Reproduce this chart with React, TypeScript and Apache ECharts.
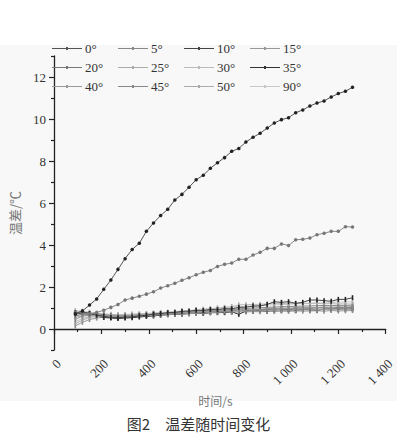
import React, { useEffect, useRef } from 'react';
import * as echarts from 'echarts';

const times = [90, 120, 150, 180, 210, 240, 270, 300, 330, 360, 390, 420, 450, 480, 510, 540, 570, 600, 630, 660, 690, 720, 750, 780, 810, 840, 870, 900, 930, 960, 990, 1020, 1050, 1080, 1110, 1140, 1170, 1200, 1230, 1260];

const seriesNames = ['0°', '5°', '10°', '15°', '20°', '25°', '30°', '35°', '40°', '45°', '50°', '90°'];

const d0 = [0.72, 0.86, 1.14, 1.43, 1.89, 2.33, 2.84, 3.35, 3.79, 4.08, 4.65, 5.05, 5.40, 5.70, 6.14, 6.41, 6.75, 7.11, 7.32, 7.65, 7.92, 8.16, 8.46, 8.60, 8.90, 9.13, 9.32, 9.57, 9.81, 9.97, 10.06, 10.30, 10.43, 10.62, 10.76, 10.86, 11.05, 11.21, 11.32, 11.51];
const d5 = [0.80, 0.76, 0.72, 0.79, 0.89, 1.03, 1.17, 1.38, 1.47, 1.56, 1.66, 1.77, 1.95, 2.06, 2.18, 2.32, 2.44, 2.58, 2.70, 2.79, 2.98, 3.08, 3.14, 3.32, 3.32, 3.52, 3.65, 3.84, 3.84, 4.05, 3.98, 4.25, 4.27, 4.33, 4.49, 4.56, 4.65, 4.65, 4.87, 4.86];
const d10 = [0.78, 0.82, 0.74, 0.66, 0.61, 0.55, 0.54, 0.56, 0.57, 0.63, 0.65, 0.71, 0.73, 0.78, 0.79, 0.84, 0.85, 0.89, 0.88, 0.93, 0.92, 0.97, 0.96, 1.03, 1.04, 1.09, 1.10, 1.17, 1.30, 1.27, 1.30, 1.22, 1.27, 1.38, 1.38, 1.35, 1.32, 1.41, 1.41, 1.49];
const d15 = [0.45, 0.62, 0.66, 0.69, 0.64, 0.63, 0.61, 0.63, 0.64, 0.67, 0.68, 0.71, 0.71, 0.75, 0.76, 0.77, 0.81, 0.80, 0.84, 0.85, 0.88, 0.86, 0.91, 0.93, 0.92, 0.95, 0.94, 0.98, 0.97, 1.00, 0.99, 1.02, 1.01, 1.03, 1.02, 1.05, 1.03, 1.06, 1.04, 1.07];
const d20 = [0.62, 0.70, 0.72, 0.70, 0.67, 0.64, 0.60, 0.62, 0.62, 0.65, 0.66, 0.69, 0.70, 0.72, 0.75, 0.74, 0.78, 0.80, 0.79, 0.83, 0.85, 0.84, 0.88, 0.90, 0.89, 0.92, 0.93, 0.92, 0.95, 0.97, 0.95, 0.98, 1.00, 0.98, 1.01, 1.02, 1.00, 1.03, 1.02, 1.04];
const d25 = [0.25, 0.42, 0.55, 0.60, 0.62, 0.60, 0.58, 0.60, 0.61, 0.63, 0.64, 0.66, 0.68, 0.69, 0.71, 0.73, 0.74, 0.76, 0.77, 0.79, 0.80, 0.82, 0.81, 0.84, 0.85, 0.84, 0.86, 0.88, 0.87, 0.89, 0.90, 0.89, 0.91, 0.92, 0.91, 0.93, 0.92, 0.94, 0.93, 0.95];
const d30 = [0.35, 0.50, 0.60, 0.66, 0.68, 0.67, 0.66, 0.68, 0.70, 0.72, 0.73, 0.75, 0.77, 0.79, 0.82, 0.84, 0.86, 0.90, 0.93, 0.96, 1.00, 1.03, 1.06, 1.15, 1.16, 1.17, 1.18, 1.20, 1.21, 1.22, 1.20, 1.22, 1.21, 1.23, 1.22, 1.20, 1.21, 1.19, 1.20, 1.18];
const d35 = [0.72, 0.74, 0.70, 0.62, 0.55, 0.52, 0.50, 0.52, 0.54, 0.57, 0.60, 0.62, 0.66, 0.68, 0.70, 0.72, 0.74, 0.76, 0.75, 0.78, 0.80, 0.78, 0.82, 0.70, 0.86, 0.85, 0.88, 0.86, 0.90, 0.89, 0.92, 0.88, 0.93, 0.92, 0.90, 0.94, 0.93, 0.95, 0.94, 0.96];
const d40 = [0.15, 0.32, 0.45, 0.52, 0.56, 0.57, 0.58, 0.60, 0.62, 0.63, 0.65, 0.66, 0.68, 0.70, 0.71, 0.72, 0.73, 0.75, 0.76, 0.78, 0.77, 0.79, 0.80, 0.82, 0.81, 0.83, 0.82, 0.84, 0.83, 0.85, 0.84, 0.86, 0.85, 0.86, 0.87, 0.85, 0.88, 0.86, 0.87, 0.88];
const d45 = [0.80, 0.78, 0.75, 0.72, 0.70, 0.66, 0.65, 0.66, 0.67, 0.68, 0.70, 0.72, 0.73, 0.76, 0.78, 0.79, 0.82, 0.84, 0.86, 0.88, 0.90, 0.91, 0.93, 0.96, 0.98, 1.00, 1.01, 1.03, 1.04, 1.06, 1.07, 1.08, 1.09, 1.10, 1.11, 1.12, 1.11, 1.13, 1.12, 1.14];
const d50 = [0.55, 0.62, 0.64, 0.63, 0.60, 0.58, 0.57, 0.58, 0.60, 0.62, 0.63, 0.64, 0.67, 0.68, 0.70, 0.71, 0.72, 0.75, 0.76, 0.77, 0.79, 0.81, 0.80, 0.83, 0.85, 0.84, 0.87, 0.89, 0.88, 0.91, 0.92, 0.91, 0.94, 0.95, 0.94, 0.97, 0.98, 0.97, 1.00, 1.01];
const d90 = [0.88, 0.85, 0.80, 0.76, 0.72, 0.70, 0.68, 0.69, 0.71, 0.72, 0.74, 0.76, 0.79, 0.80, 0.83, 0.86, 0.88, 0.92, 0.95, 0.97, 1.00, 1.02, 1.05, 1.06, 1.08, 1.10, 1.11, 1.14, 1.15, 1.16, 1.18, 1.20, 1.20, 1.22, 1.24, 1.24, 1.26, 1.28, 1.28, 1.30];

const seriesValues = [d0, d5, d10, d15, d20, d25, d30, d35, d40, d45, d50, d90];
const lineColors = ['#555', '#888', '#444', '#999', '#777', '#aaa', '#bbb', '#333', '#999', '#888', '#aaa', '#c8c8c8'];
const markColors = ['#222', '#777', '#222', '#888', '#666', '#999', '#aaa', '#222', '#888', '#777', '#999', '#bbb'];

const yMajor = [0, 2, 4, 6, 8, 10, 12];
const yMinor = [-1, 1, 3, 5, 7, 9, 11, 13];

const SERIF = 'Liberation Serif, serif';
const CJK = 'Noto Sans CJK SC';
const LEGEND_ICON = 'path://M0,1H30V2H0ZM14,0H16V3H14Z';

function fmtX(v: number) {
  if (v >= 1000) {
    const r = String(v % 1000).padStart(3, '0');
    return `${Math.floor(v / 1000)} ${r}`;
  }
  return String(v);
}

export default function App() {
  const ref = useRef<HTMLDivElement>(null);
  useEffect(() => {
    if (!ref.current) return;
    const chart = echarts.init(ref.current, undefined, { renderer: 'svg' });
    const series = seriesNames.map((name, i) => ({
      name,
      type: 'line',
      data: times.map((t, k) => [t, seriesValues[i][k]]),
      symbol: i < 2 ? 'circle' : 'rect',
      symbolSize: i < 2 ? 3.5 : [1.6, 5],
      showSymbol: true,
      lineStyle: { color: lineColors[i], width: 1 },
      itemStyle: { color: markColors[i] },
      z: 20 - i,
    }));
    chart.setOption({
      animation: false,
      legend: {
        left: 52,
        top: 39,
        width: 276,
        itemWidth: 30,
        itemHeight: 3,
        itemGap: 0,
        padding: 0,
        data: seriesNames.map((n, i) => ({ name: n, icon: LEGEND_ICON, itemStyle: { color: lineColors[i] } })),
        textStyle: {
          fontFamily: SERIF,
          fontSize: 13,
          color: '#333',
          width: 33,
          lineHeight: 19,
          padding: [0, 0, 0, -2],
        },
      },
      grid: { left: 41.7, right: 9.3, top: 56, bottom: 90 },
      xAxis: {
        type: 'value',
        min: 0,
        max: 1400,
        interval: 200,
        name: '时间/s',
        nameLocation: 'middle',
        nameGap: 44,
        nameTextStyle: { fontFamily: CJK, fontSize: 12, color: '#777', padding: [0, 9, 0, 0] },
        axisLine: { lineStyle: { color: '#222', width: 1.3 } },
        axisTick: { length: 5, lineStyle: { color: '#222', width: 1.2 } },
        minorTick: { show: true, splitNumber: 2, length: 3, lineStyle: { color: '#222', width: 1.2 } },
        splitLine: { show: false },
        axisLabel: {
          rotate: 45,
          margin: 7,
          verticalAlign: 'top',
          fontFamily: SERIF,
          fontSize: 13,
          color: '#333',
          formatter: (v: number) => fmtX(v),
        },
      },
      yAxis: [
        {
          type: 'value',
          min: -1,
          max: 13,
          name: '温差/℃',
          nameLocation: 'middle',
          nameGap: 33,
          nameTextStyle: { fontFamily: CJK, fontSize: 13, color: '#777', padding: [0, 20, 0, 0] },
          axisLine: { show: true, lineStyle: { color: '#222', width: 1.3 } },
          axisTick: { show: true, length: 5, customValues: yMajor, lineStyle: { color: '#222', width: 1.2 } },
          axisLabel: { customValues: yMajor, margin: 8, fontFamily: SERIF, fontSize: 13, color: '#333' },
          splitLine: { show: false },
        },
        {
          type: 'value',
          min: -1,
          max: 13,
          position: 'left',
          axisLine: { show: false },
          axisTick: { show: true, length: 3, customValues: yMinor, lineStyle: { color: '#222', width: 1.2 } },
          axisLabel: { show: false },
          splitLine: { show: false },
        },
      ],
      graphic: [
        {
          type: 'text',
          left: 'center',
          top: 416,
          x: -6,
          style: {
            text: '图2　温差随时间变化',
            fontFamily: CJK,
            fontSize: 15,
            fill: '#333',
          },
        },
      ],
      series,
    });
    return () => chart.dispose();
  }, []);
  return (
    <div
      ref={ref}
      style={{
        position: 'absolute',
        left: 0,
        top: 0,
        width: 397,
        height: 440,
        background: 'linear-gradient(to bottom, #ffffff 0px, #ffffff 45px, #f8f8f8 45px, #f8f8f8 401px, #ffffff 401px)',
      }}
    />
  );
}
